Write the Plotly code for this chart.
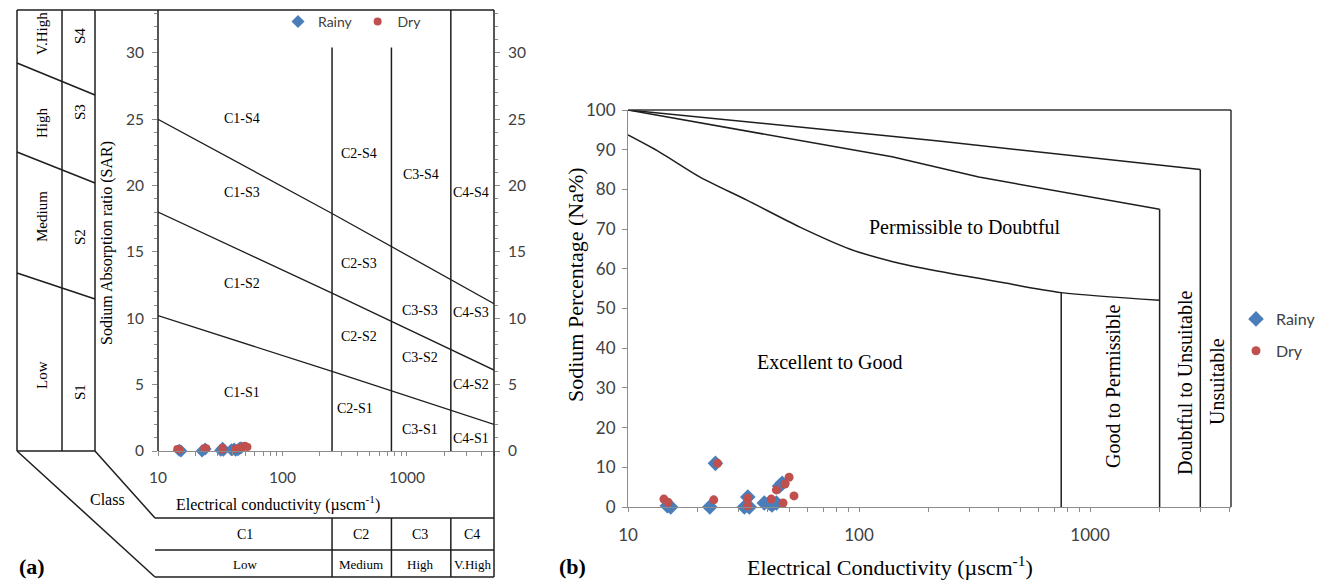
import math
import plotly.graph_objects as go

W, H = 1322, 581


def px(x):
    return x / W


def py(y):
    return 1 - y / H


# ---------------- sample data ----------------
ec_rainy = [14.8, 15.3, 22.6, 23.9, 31.9, 33.5, 33.0, 38.9, 40.9, 43.9, 42.0, 45.3, 46.5]
na_rainy = [0.3, 0.0, 0.0, 11.0, 0.0, 0.0, 2.5, 1.0, 1.0, 1.0, 0.5, 5.3, 6.0]
sar_rainy = [0.05, 0.0, 0.0, 0.15, 0.05, 0.05, 0.2, 0.1, 0.15, 0.1, 0.05, 0.2, 0.25]

ec_dry = [14.3, 14.9, 23.5, 24.4, 33.0, 33.0, 41.7, 43.9, 46.9, 47.8, 49.8, 52.3]
na_dry = [2.0, 1.2, 1.8, 11.0, 2.2, 0.3, 2.0, 4.3, 1.0, 5.8, 7.5, 2.8]
sar_dry = [0.15, 0.1, 0.2, 0.2, 0.25, 0.1, 0.15, 0.2, 0.2, 0.3, 0.4, 0.3]

# ---------------- USSL diagram (a) ----------------
ec_class_limits = [250, 750, 2250]
ec_class_names = ["C1", "C2", "C3", "C4"]
ec_class_levels = ["Low", "Medium", "High", "V.High"]
sar_class_names = ["S1", "S2", "S3", "S4"]
sar_class_levels = ["Low", "Medium", "High", "V.High"]
sar_line_ec = [10, 250, 5000]
sar_line_s1s2 = [10.2, 6.0, 2.0]
sar_line_s2s3 = [18.0, 11.9, 6.1]
sar_line_s3s4 = [25.0, 17.9, 11.1]
class_line_tops = [30.4, 30.4, 33.23]

# ---------------- Wilcox diagram (b) ----------------
wil_ec_1 = [10, 13.7, 20.5, 32.7, 55.5, 91, 140, 221, 330, 430, 750, 2000]
wil_na_1 = [93.7, 89.4, 83.1, 77.3, 70.5, 65.0, 61.8, 59.4, 57.6, 56.4, 54.0, 52.1]
wil_ec_2 = [10, 37, 139, 330, 2000]
wil_na_2 = [100, 94.2, 88.2, 83.1, 75]
wil_ec_3 = [10, 221, 3000]
wil_na_3 = [100, 92.2, 85]
wil_vert_ec = [750, 2000, 3000]
wil_vert_top = [54.0, 75.0, 85.0]

# ---------------- styling ----------------
BLUE = "#4A7EBB"
RED = "#C0504D"
LINE = "#1e1e1e"
AX = "#8c8c8c"
SANS = "Lato, 'Open Sans', sans-serif"
SERIF = "'Liberation Serif', 'Times New Roman', serif"

A_XDOM = [px(158), px(494)]
A_YDOM = [py(451), py(10)]
A_XR = [1, math.log10(5000)]
A_YR = [0, 33.23]
B_XDOM = [px(628), px(1231)]
B_YDOM = [py(507), py(110)]
B_XR = [1, 3.61]
B_YR = [0, 100]

log_tickvals = [m * 10 ** k for k in (1, 2, 3) for m in range(1, 10)]
log_ticktext = [str(v) if v in (10, 100, 1000) else "" for v in log_tickvals]

fig = go.Figure()

# ---- panel (a) boundary lines ----
for sar_line in (sar_line_s1s2, sar_line_s2s3, sar_line_s3s4):
    fig.add_trace(go.Scatter(x=sar_line_ec, y=sar_line, mode="lines",
                             line=dict(color=LINE, width=1.3), showlegend=False,
                             hoverinfo="skip", xaxis="x", yaxis="y"))
for ec, top in zip(ec_class_limits, class_line_tops):
    fig.add_trace(go.Scatter(x=[ec, ec], y=[0, top], mode="lines",
                             line=dict(color=LINE, width=1.5), showlegend=False,
                             hoverinfo="skip", xaxis="x", yaxis="y", cliponaxis=False))

# ---- panel (a) points ----
fig.add_trace(go.Scatter(x=ec_rainy, y=sar_rainy, mode="markers", name="Rainy",
                         marker=dict(symbol="diamond", size=10, color=BLUE),
                         xaxis="x", yaxis="y", legend="legend2", cliponaxis=False))
fig.add_trace(go.Scatter(x=ec_dry, y=sar_dry, mode="markers", name="Dry",
                         marker=dict(symbol="circle", size=8, color=RED),
                         xaxis="x", yaxis="y", legend="legend2", cliponaxis=False))

# ---- panel (b) boundary lines ----
fig.add_trace(go.Scatter(x=wil_ec_1, y=wil_na_1, mode="lines",
                         line=dict(color=LINE, width=1.5, shape="spline", smoothing=0.8),
                         showlegend=False, hoverinfo="skip", xaxis="x2", yaxis="y2"))
for ecs, nas in ((wil_ec_2, wil_na_2), (wil_ec_3, wil_na_3)):
    fig.add_trace(go.Scatter(x=ecs, y=nas, mode="lines", line=dict(color=LINE, width=1.5),
                             showlegend=False, hoverinfo="skip", xaxis="x2", yaxis="y2"))
for ec, top in zip(wil_vert_ec, wil_vert_top):
    fig.add_trace(go.Scatter(x=[ec, ec], y=[0, top], mode="lines",
                             line=dict(color=LINE, width=1.5), showlegend=False,
                             hoverinfo="skip", xaxis="x2", yaxis="y2"))

# ---- panel (b) points ----
fig.add_trace(go.Scatter(x=ec_rainy, y=na_rainy, mode="markers", name="Rainy",
                         marker=dict(symbol="diamond", size=12, color=BLUE),
                         xaxis="x2", yaxis="y2", legend="legend", legendgroup="r",
                         cliponaxis=False))
fig.add_trace(go.Scatter(x=ec_dry, y=na_dry, mode="markers", name="Dry",
                         marker=dict(symbol="circle", size=9, color=RED),
                         xaxis="x2", yaxis="y2", legend="legend", legendgroup="d",
                         cliponaxis=False))

# invisible trace to activate the right y axis of (a)
fig.add_trace(go.Scatter(x=[10], y=[0], mode="markers", marker=dict(opacity=0),
                         showlegend=False, hoverinfo="skip", xaxis="x", yaxis="y3"))

# ---------------- shapes ----------------
shapes = []


def seg(x0, y0, x1, y1, color=LINE, width=1.5):
    shapes.append(dict(type="line", xref="paper", yref="paper",
                       x0=px(x0), y0=py(y0), x1=px(x1), y1=py(y1),
                       line=dict(color=color, width=width)))


def ax_a_px(v):
    return 158 + (math.log10(v) - A_XR[0]) / (A_XR[1] - A_XR[0]) * (494 - 158)


seg(17, 10, 494, 10)          # top border
seg(17, 10, 17, 451)          # left column borders
seg(62, 10, 62, 451)
seg(95, 10, 95, 451)
seg(17, 451, 95, 451)
seg(158, 10, 158, 451)        # C1 left border
seg(494, 10, 494, 577)        # right border
seg(17, 63, 95, 95)           # SAR class slants
seg(17, 152, 95, 183)
seg(17, 273, 95, 299)
seg(17, 451, 155, 577)        # class slants
seg(95, 451, 155, 518)
for yy in (518, 550, 577):
    seg(155, yy, 494, yy)
for ec in ec_class_limits:
    xx = ax_a_px(ec)
    seg(xx, 518, xx, 577)

# panel (b) frame
shapes.append(dict(type="line", xref="x2 domain", yref="y2 domain", x0=0, x1=1, y0=1, y1=1,
                   line=dict(color="#333", width=1.5)))
shapes.append(dict(type="line", xref="x2 domain", yref="y2 domain", x0=1, x1=1, y0=0, y1=1,
                   line=dict(color="#333", width=1.5)))

# ---------------- annotations ----------------
anns = []


def txt(text, x, y, size=13, angle=0, bold=False, family=SERIF, color="black"):
    if bold:
        text = "<b>" + text + "</b>"
    anns.append(dict(text=text, x=px(x), y=py(y), xref="paper", yref="paper",
                     showarrow=False, textangle=angle, xanchor="center", yanchor="middle",
                     font=dict(family=family, size=size, color=color)))


zone_pos = {
    "C1-S4": (242, 118), "C1-S3": (242, 192), "C1-S2": (242, 283), "C1-S1": (242, 392),
    "C2-S4": (359, 153), "C2-S3": (359, 263), "C2-S2": (359, 337), "C2-S1": (355, 408),
    "C3-S4": (421, 174), "C3-S3": (420, 310), "C3-S2": (420, 357), "C3-S1": (420, 429),
    "C4-S4": (471, 193), "C4-S3": (471, 312), "C4-S2": (471, 384), "C4-S1": (471, 438),
}
for k, (x, y) in zone_pos.items():
    txt(k, x, y, 14)

for lab, y in zip(sar_class_levels, (375, 217, 123, 34)):
    txt(lab, 42, y, 15, angle=-90)
for lab, y in zip(sar_class_names, (392, 237, 112, 36)):
    txt(lab, 80, y, 15, angle=-90)
txt("Sodium Absorption ratio (SAR)", 107, 243, 16, angle=-90)

cx = [245, 361, 420, 472]
for lab, x in zip(ec_class_names, cx):
    txt(lab, x, 534, 14)
for lab, x in zip(ec_class_levels, cx):
    txt(lab, x, 564, 13)
txt("Class", 107, 499, 16)
txt("Electrical conductivity (µscm<sup>-1</sup>)", 278, 503, 16)
txt("(a)", 32, 566, 22, bold=True)

txt("Permissible to Doubtful", 965, 227, 20)
txt("Excellent to Good", 830, 362, 20)
txt("Good to Permissible", 1113, 387, 20, angle=-90)
txt("Doubtful to Unsuitable", 1185, 383, 20, angle=-90)
txt("Unsuitable", 1217, 382, 20, angle=-90)
txt("Sodium Percentage (Na%)", 575, 285, 22, angle=-90)
txt("Electrical Conductivity (µscm<sup>-1</sup>)", 890, 566, 22)
txt("(b)", 572, 566, 22, bold=True)

# ---------------- layout ----------------
font_a = dict(family=SANS, size=15.5, color="#404040")
font_b = dict(family=SANS, size=17, color="#404040")
common_x = dict(type="log", tickvals=log_tickvals, ticktext=log_ticktext, ticks="outside",
                ticklen=4, tickcolor=AX, showline=True, linecolor=AX, linewidth=1,
                showgrid=False, zeroline=False, automargin=False, tickangle=0)
common_y = dict(ticks="outside", ticklen=5, tickcolor=AX, showgrid=False, zeroline=False,
                automargin=False)

fig.update_layout(
    template="none",
    width=W, height=H, margin=dict(l=0, r=0, t=0, b=0, pad=0),
    paper_bgcolor="white", plot_bgcolor="rgba(0,0,0,0)",
    xaxis=dict(common_x, domain=A_XDOM, range=A_XR, anchor="y", tickfont=font_a,
               ticklabelstandoff=8),
    yaxis=dict(common_y, domain=A_YDOM, range=A_YR, anchor="x", dtick=5, tick0=0,
               showline=False, tickfont=font_a, ticklabelstandoff=5,
               minor=dict(dtick=1, ticks="outside", ticklen=3, tickcolor=AX)),
    yaxis3=dict(common_y, range=A_YR, overlaying="y", side="right", anchor="x", dtick=5,
                tick0=0, showline=False, tickfont=font_a, ticklabelstandoff=5,
                minor=dict(dtick=1, ticks="outside", ticklen=3, tickcolor=AX)),
    xaxis2=dict(common_x, domain=B_XDOM, range=B_XR, anchor="y2", tickfont=font_b,
                ticklabelstandoff=9),
    yaxis2=dict(common_y, domain=B_YDOM, range=B_YR, anchor="x2", dtick=10,
                showline=True, linecolor=AX, linewidth=1, tickfont=font_b,
                ticklabelstandoff=3),
    legend=dict(x=px(1236), y=py(302), xanchor="left", yanchor="top",
                font=dict(family=SANS, size=16, color="#404040"),
                tracegroupgap=8, bgcolor="rgba(0,0,0,0)", borderwidth=0),
    legend2=dict(orientation="h", x=px(278), y=py(6), xanchor="left", yanchor="top",
                 font=dict(family=SANS, size=14, color="#404040"),
                 bgcolor="rgba(0,0,0,0)", borderwidth=0),
    shapes=shapes, annotations=anns,
)

fig.write_html(
    "out.html",
    config={"displayModeBar": False},
    post_script="document.body.style.margin='0px';document.body.style.overflow='hidden';",
)
